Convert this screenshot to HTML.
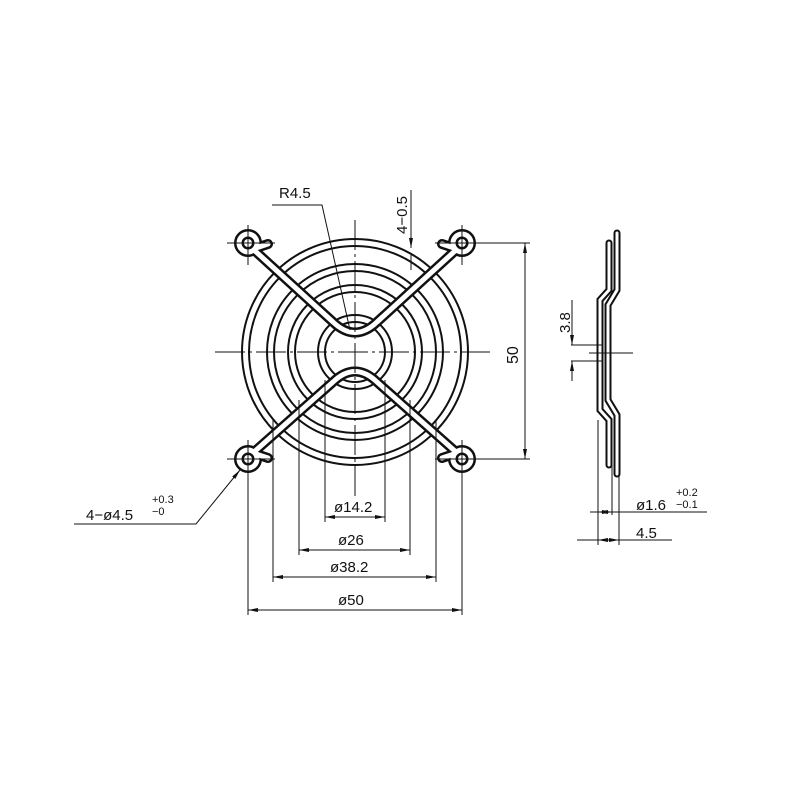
<!DOCTYPE html>
<html><head><style>body{margin:0;background:#fff}svg{display:block}text{font-family:"Liberation Sans",sans-serif;fill:#111}</style></head>
<body>
<svg width="800" height="800" viewBox="0 0 800 800" xmlns="http://www.w3.org/2000/svg">
<defs>
<marker id="a" viewBox="0 0 10 6" refX="10" refY="3" markerWidth="10" markerHeight="6" orient="auto-start-reverse" markerUnits="userSpaceOnUse"><path d="M0,1 L10,3 L0,5z" fill="#111"/></marker>
</defs>
<g fill="none" stroke="#111" stroke-width="2">
<circle cx="355" cy="352" r="113"/><circle cx="355" cy="352" r="106"/>
<circle cx="355" cy="352" r="88"/><circle cx="355" cy="352" r="81"/>
<circle cx="355" cy="352" r="67"/><circle cx="355" cy="352" r="60"/>
<circle cx="355" cy="352" r="37"/><circle cx="355" cy="352" r="30"/>
</g>
<g fill="none" stroke-linecap="round" stroke-linejoin="round">
<g stroke="#111" stroke-width="10">
<circle cx="248" cy="243" r="9"/><circle cx="462" cy="243" r="9"/>
<circle cx="248" cy="459" r="9"/><circle cx="462" cy="459" r="9"/>
<path d="M256,248 L268,244 M454,248 L442,244 M256,454 L268,458 M454,454 L442,458"/>
<path d="M254,250 L333,322 Q355,343 377,322 L456,250"/>
<path d="M254,452 L333,382 Q355,361 377,382 L456,452"/>
</g>
<g stroke="#fff" stroke-width="5">
<circle cx="248" cy="243" r="9"/><circle cx="462" cy="243" r="9"/>
<circle cx="248" cy="459" r="9"/><circle cx="462" cy="459" r="9"/>
<path d="M256,248 L268,244 M454,248 L442,244 M256,454 L268,458 M454,454 L442,458"/>
<path d="M254,250 L333,322 Q355,343 377,322 L456,250"/>
<path d="M254,452 L333,382 Q355,361 377,382 L456,452"/>
</g>
</g>
<g stroke="#111" stroke-width="1" fill="none">
<line x1="215" y1="352" x2="490" y2="352" stroke-dasharray="30,4,3,4"/>
<line x1="355" y1="220" x2="355" y2="500" stroke-dasharray="30,4,3,4"/>
<line x1="227" y1="243" x2="275" y2="243"/><line x1="248" y1="225" x2="248" y2="265"/>
<line x1="435" y1="243" x2="530" y2="243"/><line x1="462" y1="225" x2="462" y2="265"/>
<line x1="227" y1="459" x2="275" y2="459"/><line x1="248" y1="440" x2="248" y2="615"/>
<line x1="435" y1="459" x2="530" y2="459"/><line x1="462" y1="440" x2="462" y2="615"/>
<line x1="325" y1="380" x2="325" y2="522"/><line x1="385" y1="380" x2="385" y2="522"/>
<line x1="299" y1="400" x2="299" y2="555"/><line x1="410" y1="400" x2="410" y2="555"/>
<line x1="273" y1="420" x2="273" y2="582"/><line x1="436" y1="420" x2="436" y2="582"/>
<line x1="325" y1="517" x2="385" y2="517" marker-start="url(#a)" marker-end="url(#a)"/>
<line x1="299" y1="550" x2="410" y2="550" marker-start="url(#a)" marker-end="url(#a)"/>
<line x1="273" y1="577" x2="436" y2="577" marker-start="url(#a)" marker-end="url(#a)"/>
<line x1="248" y1="610" x2="462" y2="610" marker-start="url(#a)" marker-end="url(#a)"/>
<line x1="525" y1="243" x2="525" y2="459" marker-start="url(#a)" marker-end="url(#a)"/>
<polyline points="74,524 196,524 240,470" marker-end="url(#a)"/>
<polyline points="272,205 322,205 350,330"/>
<line x1="411" y1="190" x2="411" y2="248" marker-end="url(#a)"/>
<line x1="411" y1="270" x2="411" y2="255"/>
</g>
<text x="279" y="198" font-size="15">R4.5</text>
<text transform="translate(407,234) rotate(-90)" font-size="15">4−0.5</text>
<text transform="translate(518,364) rotate(-90)" font-size="16">50</text>
<text x="334" y="512" font-size="15">ø14.2</text>
<text x="338" y="545" font-size="15">ø26</text>
<text x="330" y="572" font-size="15">ø38.2</text>
<text x="338" y="605" font-size="15">ø50</text>
<text x="86" y="520" font-size="15">4−ø4.5</text>
<text x="152" y="503" font-size="11">+0.3</text>
<text x="152" y="515" font-size="11">−0</text>
<g fill="none" stroke="#111" stroke-linecap="round">
<path d="M617,233 L617,290 L608,305 L608,400 L617,415 L617,474" stroke-width="7"/>
<path d="M617,233 L617,290 L608,305 L608,400 L617,415 L617,474" stroke="#fff" stroke-width="3"/>
<path d="M609,243 L609,290 L600,300 L600,410 L609,420 L609,465" stroke-width="7"/>
<path d="M609,243 L609,290 L600,300 L600,410 L609,420 L609,465" stroke="#fff" stroke-width="3"/>
</g>
<g stroke="#111" stroke-width="1" fill="none">
<line x1="571" y1="345" x2="603" y2="345"/><line x1="571" y1="361" x2="603" y2="361"/>
<line x1="589" y1="353" x2="633" y2="353"/>
<line x1="572" y1="300" x2="572" y2="345" marker-end="url(#a)"/>
<line x1="572" y1="381" x2="572" y2="361" marker-end="url(#a)"/>
<line x1="598" y1="420" x2="598" y2="545"/><line x1="612" y1="420" x2="612" y2="515"/><line x1="619" y1="470" x2="619" y2="545"/>
<line x1="590" y1="512" x2="707" y2="512"/>
<line x1="598" y1="512" x2="612" y2="512" marker-start="url(#a)" marker-end="url(#a)"/>
<line x1="577" y1="540" x2="672" y2="540"/>
<line x1="598" y1="540" x2="619" y2="540" marker-start="url(#a)" marker-end="url(#a)"/>
</g>
<text transform="translate(570,333) rotate(-90)" font-size="15">3.8</text>
<text x="636" y="510" font-size="15">ø1.6</text>
<text x="676" y="496" font-size="11">+0.2</text>
<text x="676" y="508" font-size="11">−0.1</text>
<text x="636" y="538" font-size="15">4.5</text>
</svg>
</body></html>
